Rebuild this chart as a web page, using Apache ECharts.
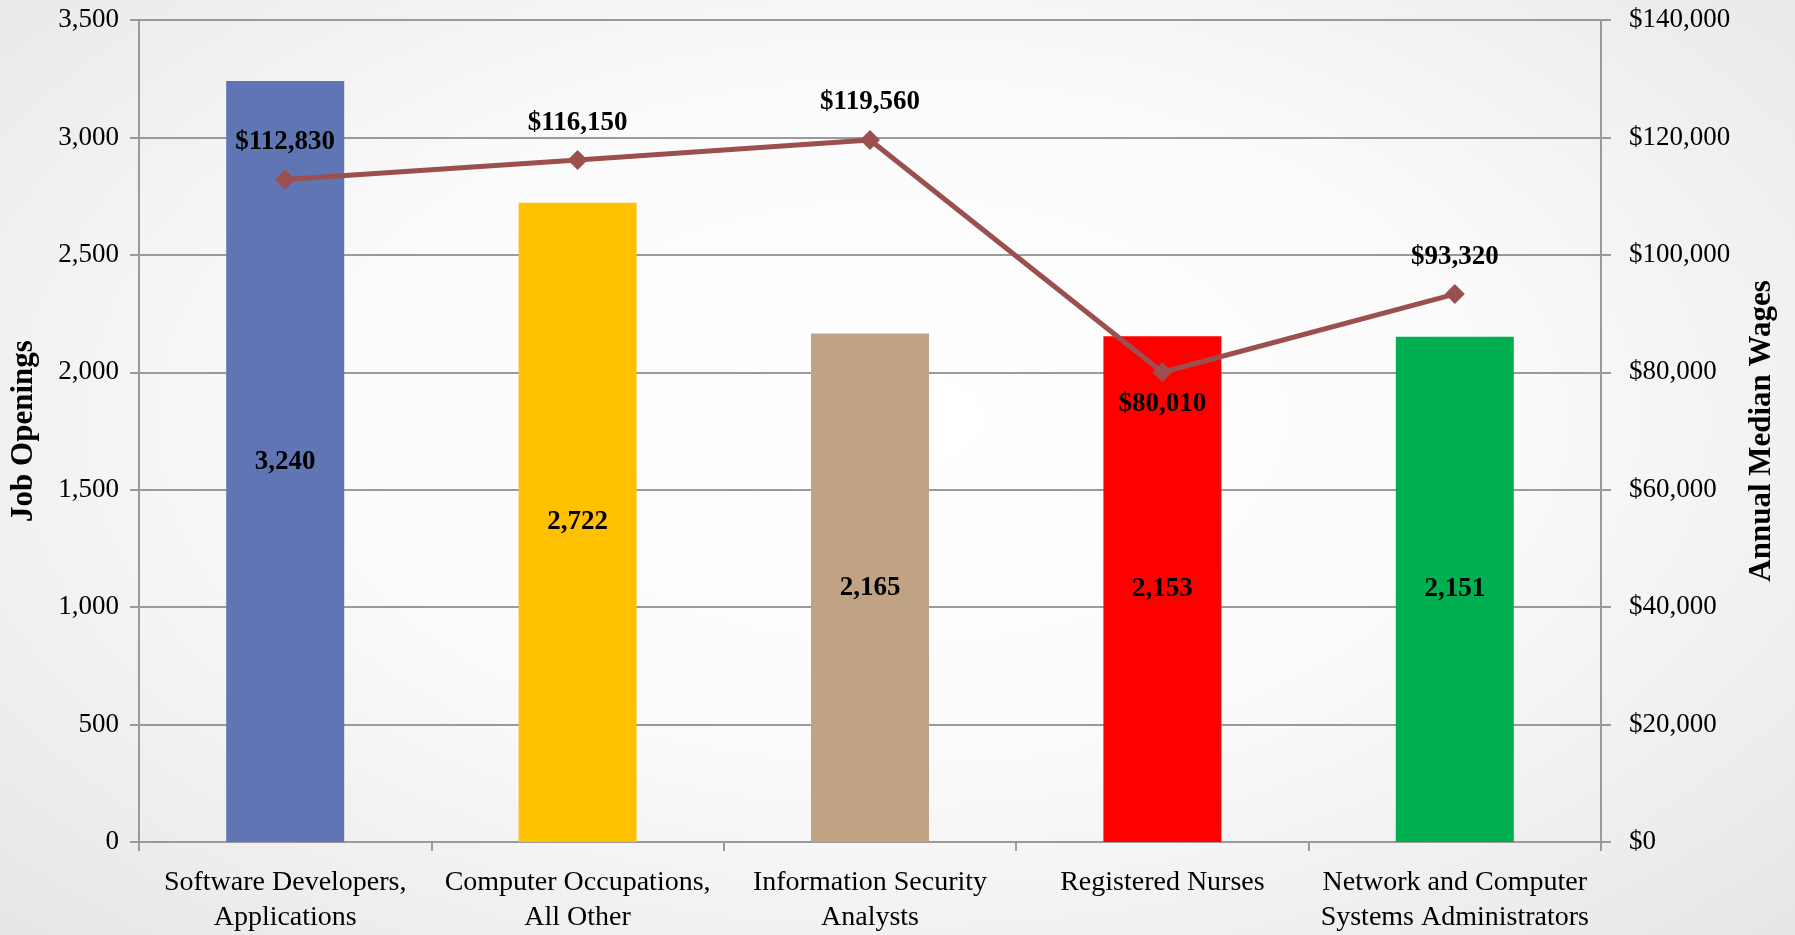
<!DOCTYPE html>
<html>
<head>
<meta charset="utf-8">
<script src="https://cdn.jsdelivr.net/npm/echarts@6/dist/echarts.min.js"></script>
<style>
  html, body { margin: 0; padding: 0; }
  body {
    width: 1795px; height: 935px;
    background: radial-gradient(ellipse at 50% 45%, #ffffff 0%, #fbfbfb 45%, #e6e6e6 100%);
  }
  #chart { width: 1795px; height: 935px; }
</style>
</head>
<body>
<div id="chart"></div>
<script>
// categories and values
const categories = [
  "Software Developers,\nApplications",
  "Computer Occupations,\nAll Other",
  "Information Security\nAnalysts",
  "Registered Nurses",
  "Network and Computer\nSystems Administrators"
];
const jobOpenings = [3240, 2722, 2165, 2153, 2151];
const medianWages = [112830, 116150, 119560, 80010, 93320];
const barColors = ["#6076b4", "#ffc000", "#c0a385", "#ff0000", "#00b050"];

const font = "Liberation Serif";
const gridColor = "#9a9a9a";

function money(v) {
  return "$" + v.toLocaleString("en-US");
}

const chart = echarts.init(document.getElementById("chart"));
chart.setOption({
  animation: false,
  textStyle: { fontFamily: font },
  grid: { left: 138, right: 194, top: 20, bottom: 92 },
  xAxis: {
    type: "category",
    data: categories,
    axisTick: { show: true, alignWithLabel: false, length: 9, lineStyle: { color: gridColor, width: 2 } },
    axisLine: { lineStyle: { color: gridColor, width: 2 } },
    axisLabel: { color: "#000", fontSize: 28, fontFamily: font, lineHeight: 35, margin: 23, interval: 0 }
  },
  yAxis: [
    {
      type: "value",
      min: 0, max: 3500, interval: 500,
      name: "Job Openings",
      nameLocation: "middle",
      nameGap: 100,
      nameTextStyle: { color: "#000", fontSize: 31, fontWeight: "bold", fontFamily: font },
      axisLine: { show: true, lineStyle: { color: gridColor, width: 2 } },
      axisTick: { show: true, length: 9, lineStyle: { color: gridColor, width: 2 } },
      splitLine: { lineStyle: { color: gridColor, width: 2 } },
      axisLabel: {
        color: "#000", fontSize: 27, fontFamily: font, margin: 20,
        formatter: v => v.toLocaleString("en-US")
      }
    },
    {
      type: "value",
      min: 0, max: 140000, interval: 20000,
      name: "Annual Median Wages",
      nameLocation: "middle",
      nameGap: 145,
      nameTextStyle: { color: "#000", fontSize: 31, fontWeight: "bold", fontFamily: font },
      axisLine: { show: true, lineStyle: { color: gridColor, width: 2 } },
      axisTick: { show: true, length: 10, lineStyle: { color: gridColor, width: 2 } },
      splitLine: { show: false },
      axisLabel: {
        color: "#000", fontSize: 27, fontFamily: font, margin: 28,
        formatter: v => money(v)
      }
    }
  ],
  series: [
    {
      name: "Job Openings",
      type: "bar",
      barWidth: 118,
      data: jobOpenings.map((v, i) => ({ value: v, itemStyle: { color: barColors[i] } })),
      label: {
        show: true, position: "inside", color: "#000",
        fontSize: 27, fontWeight: "bold", fontFamily: font,
        formatter: p => p.value.toLocaleString("en-US")
      }
    },
    {
      name: "Annual Median Wages",
      type: "line",
      yAxisIndex: 1,
      data: medianWages.map((v, i) => ({
        value: v,
        label: i === 3 ? { position: "bottom", distance: 8 } : undefined
      })),
      symbol: "diamond",
      symbolSize: 20,
      lineStyle: { color: "#9b4f4f", width: 5 },
      itemStyle: { color: "#9b4f4f" },
      label: {
        show: true, position: "top", distance: 14, color: "#000",
        fontSize: 27, fontWeight: "bold", fontFamily: font,
        formatter: p => money(p.value)
      },
      z: 5
    }
  ]
});
</script>
</body>
</html>
